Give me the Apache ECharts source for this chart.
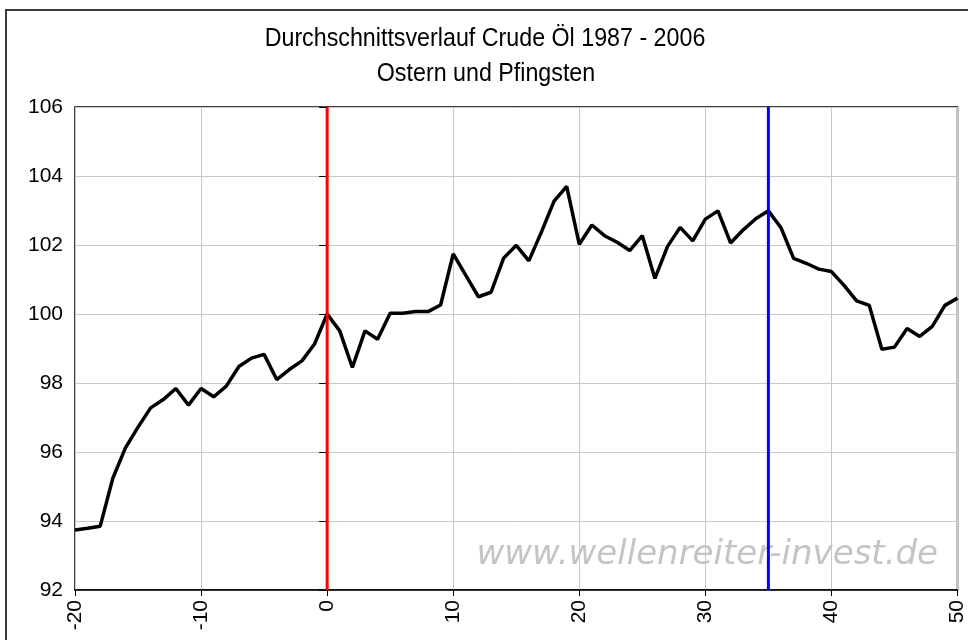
<!DOCTYPE html>
<html>
<head>
<meta charset="utf-8">
<script src="https://cdn.jsdelivr.net/npm/echarts@6/dist/echarts.min.js"></script>
<style>
html,body{margin:0;padding:0;background:#fff;}
#chart{width:968px;height:640px;}
</style>
</head>
<body>
<div id="chart"></div>
<script>
var titleText = 'Durchschnittsverlauf Crude Öl 1987 - 2006';
var subtitleText = 'Ostern und Pfingsten';
var watermarkText = 'www.wellenreiter-invest.de';

var days = [-20,-19,-18,-17,-16,-15,-14,-13,-12,-11,-10,-9,-8,-7,-6,-5,-4,-3,-2,-1,
  0,1,2,3,4,5,6,7,8,9,10,11,12,13,14,15,16,17,18,19,20,21,22,23,24,25,26,27,28,29,
  30,31,32,33,34,35,36,37,38,39,40,41,42,43,44,45,46,47,48,49,50];
var values = [93.74,93.79,93.85,95.24,96.12,96.72,97.28,97.52,97.84,97.36,97.84,97.60,97.91,98.48,98.72,98.83,98.10,98.39,98.64,99.13,
  100.00,99.51,98.45,99.51,99.27,100.02,100.02,100.07,100.07,100.26,101.74,101.12,100.50,100.63,101.62,101.99,101.54,102.38,103.27,103.70,
  102.02,102.58,102.27,102.08,101.84,102.27,101.03,101.96,102.51,102.12,102.75,102.99,102.06,102.44,102.76,102.99,102.50,101.61,101.47,101.30,
  101.23,100.83,100.38,100.25,98.98,99.04,99.58,99.35,99.64,100.25,100.46];
var easterDay = [0];
var pentecostDay = [35];
var yRange = [92, 106];
var xRange = [-20, 50];

var chart = echarts.init(document.getElementById('chart'), null, {renderer:'canvas'});
var font = '"Liberation Sans",Arial,sans-serif';
var option = {
  backgroundColor:'#fff',
  animation:false,
  graphic:[
    {type:'rect', z:-10, silent:true, shape:{x:6,y:10,width:980,height:660}, style:{fill:'#fff', stroke:'#3a3a3a', lineWidth:2}},
    {type:'text', z:10, silent:true, x:485, y:39, scaleX:0.93,
     style:{text:titleText, fill:'#000', font:'25px "Liberation Sans", Arial, sans-serif', textAlign:'center', textVerticalAlign:'middle'}},
    {type:'text', z:10, silent:true, x:486, y:74, scaleX:0.93,
     style:{text:subtitleText, fill:'#000', font:'25px "Liberation Sans", Arial, sans-serif', textAlign:'center', textVerticalAlign:'middle'}},
    {type:'text', z:1, silent:true, x:938, y:555,
     style:{text:watermarkText, fill:'#c4c4c4', font:'italic 34px "DejaVu Sans", Verdana, sans-serif', textAlign:'right', textVerticalAlign:'middle'}}
  ],
  grid:{left:75, right:7, top:107, bottom:50, show:true, borderColor:'#000', borderWidth:1.5, backgroundColor:'transparent'},
  xAxis:{
    type:'value', min:xRange[0], max:xRange[1], interval:10,
    axisLine:{show:true, onZero:false, lineStyle:{color:'#000', width:1.5}},
    axisTick:{show:true, length:6, lineStyle:{color:'#000'}},
    splitLine:{show:true, lineStyle:{color:'#c8c8c8', width:1}},
    axisLabel:{rotate:90, margin:10, fontFamily:font, fontSize:21, color:'#000'}
  },
  yAxis:{
    type:'value', min:yRange[0], max:yRange[1], interval:2,
    axisLine:{show:true, lineStyle:{color:'#000', width:1.5}},
    axisTick:{show:true, length:8, lineStyle:{color:'#000'}},
    splitLine:{show:true, lineStyle:{color:'#c8c8c8', width:1}},
    axisLabel:{margin:12, fontFamily:font, fontSize:21, color:'#000'}
  },
  series:[
    {type:'line', data:days.map(function(d,i){return [d, values[i]];}), symbol:'none',
     lineStyle:{color:'#000', width:3.5}, z:3},
    {type:'line', data:[[easterDay[0], yRange[0]],[easterDay[0], yRange[1]]], symbol:'none',
     lineStyle:{color:'#ff0000', width:3}, z:4},
    {type:'line', data:[[pentecostDay[0], yRange[0]],[pentecostDay[0], yRange[1]]], symbol:'none',
     lineStyle:{color:'#0000ff', width:3}, z:4}
  ]
};
chart.setOption(option);
</script>
</body>
</html>
